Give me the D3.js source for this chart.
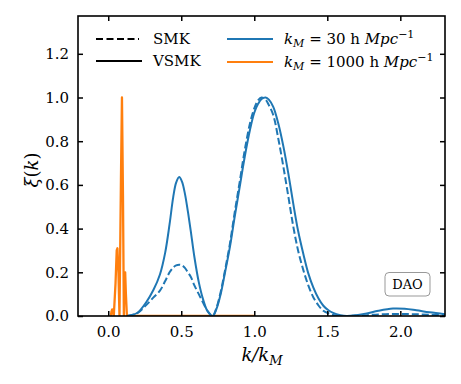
<!DOCTYPE html>
<html>
<head>
<meta charset="utf-8">
<script src="https://cdn.jsdelivr.net/npm/d3@7"></script>
<style>
  body { margin: 0; background: #fff; }
  text { font-family: "DejaVu Serif", serif; }
</style>
</head>
<body>
<svg id="chart" width="461" height="384"></svg>
<script>
// k/kM sample points (kM = 30 h/Mpc)
const kBlue = [0.13, 0.2, 0.26, 0.31, 0.354, 0.39, 0.42, 0.445, 0.465, 0.486, 0.505, 0.525, 0.545, 0.565, 0.59, 0.62, 0.65, 0.68, 0.715,
  0.74, 0.77, 0.80, 0.833, 0.865, 0.90, 0.935, 0.97, 1.0, 1.027, 1.05, 1.078, 1.10, 1.13, 1.165, 1.2, 1.235, 1.267, 1.30, 1.336,
  1.37, 1.404, 1.44, 1.473, 1.51, 1.54, 1.59, 1.632, 1.70, 1.77, 1.85, 1.95, 2.03, 2.11, 2.2, 2.31];
const vsmkBlue = [0, 0.015, 0.063, 0.12, 0.19, 0.29, 0.42, 0.544, 0.61, 0.636, 0.615, 0.56, 0.48, 0.39, 0.27, 0.155, 0.075, 0.022, 0,
  0.03, 0.1, 0.2, 0.315, 0.45, 0.59, 0.73, 0.85, 0.93, 0.972, 0.993, 1.0, 0.99, 0.957, 0.88, 0.774, 0.645, 0.514, 0.39, 0.284,
  0.195, 0.131, 0.08, 0.047, 0.025, 0.014, 0.004, 0, 0.004, 0.012, 0.024, 0.034, 0.033, 0.026, 0.017, 0.008];
const smkBlue = [0, 0.013, 0.05, 0.085, 0.116, 0.16, 0.2, 0.222, 0.232, 0.235, 0.232, 0.22, 0.2, 0.18, 0.14, 0.1, 0.06, 0.024, 0,
  0.035, 0.11, 0.21, 0.33, 0.47, 0.613, 0.76, 0.88, 0.95, 0.988, 1.0, 0.99, 0.965, 0.92, 0.81, 0.68, 0.54, 0.41, 0.3, 0.21,
  0.14, 0.086, 0.048, 0.024, 0.012, 0.005, 0, 0, 0.002, 0.004, 0.007, 0.009, 0.009, 0.008, 0.006, 0.003];

// kM = 1000 h/Mpc
const kOrange = [0.018, 0.022, 0.027, 0.032, 0.038, 0.05, 0.058, 0.063, 0.07, 0.077, 0.087, 0.094, 0.101, 0.107, 0.111, 0.116, 0.121, 0.128, 0.2, 0.5, 1.0];
const vsmkOrange = [0, 0.02, 0.03, 0.025, 0, 0.15, 0.3, 0.31, 0.2, 0, 0.62, 1.0, 0.55, 0, 0.18, 0.2, 0.1, 0, 0, 0, 0];

const xTicks = [0.0, 0.5, 1.0, 1.5, 2.0];
const yTicks = [0.0, 0.2, 0.4, 0.6, 0.8, 1.0, 1.2];

const svg = d3.select("#chart");
const margin = { top: 16, right: 16, bottom: 68, left: 78 };
const width = +svg.attr("width") - margin.left - margin.right;
const height = +svg.attr("height") - margin.top - margin.bottom;
const g = svg.append("g").attr("transform", `translate(${margin.left},${margin.top})`);

const x = d3.scaleLinear().domain([-0.207, 2.306]).range([0, width]);
const y = d3.scaleLinear().domain([0, 1.373]).range([height, 0]);

const blue = "#1f77b4", orange = "#ff7f0e";

svg.append("defs").append("clipPath").attr("id", "clip")
  .append("rect").attr("width", width).attr("height", height);

const plot = g.append("g").attr("clip-path", "url(#clip)");

const smooth = d3.line().x(d => x(d[0])).y(d => y(d[1])).curve(d3.curveCatmullRom.alpha(0.5));
const straight = d3.line().x(d => x(d[0])).y(d => y(d[1]));

plot.append("path")
  .datum(d3.zip(kOrange, vsmkOrange))
  .attr("d", straight)
  .attr("fill", "none").attr("stroke", orange).attr("stroke-width", 2.3).attr("stroke-linejoin", "round");

plot.append("path")
  .datum(d3.zip(kBlue, smkBlue))
  .attr("d", smooth)
  .attr("fill", "none").attr("stroke", blue).attr("stroke-width", 2).attr("stroke-dasharray", "7,3");

plot.append("path")
  .datum(d3.zip(kBlue, vsmkBlue))
  .attr("d", smooth)
  .attr("fill", "none").attr("stroke", blue).attr("stroke-width", 2);

// axes with inward ticks on all four sides
const fmt = d3.format(".1f");
const styleAxis = sel => {
  sel.select(".domain").remove();
  sel.selectAll(".tick line").attr("stroke", "#000").attr("stroke-width", 1.5);
  sel.selectAll(".tick text").attr("font-family", "DejaVu Serif").attr("font-size", 15).attr("fill", "#000");
};

g.append("g").attr("transform", `translate(0,${height})`)
  .call(d3.axisBottom(x).tickValues(xTicks).tickFormat(fmt).tickSizeInner(-5).tickPadding(10))
  .call(styleAxis);
g.append("g")
  .call(d3.axisTop(x).tickValues(xTicks).tickSizeInner(-5).tickFormat(""))
  .call(styleAxis);
g.append("g")
  .call(d3.axisLeft(y).tickValues(yTicks).tickFormat(fmt).tickSizeInner(-5).tickPadding(9))
  .call(styleAxis);
g.append("g").attr("transform", `translate(${width},0)`)
  .call(d3.axisRight(y).tickValues(yTicks).tickSizeInner(-5).tickFormat(""))
  .call(styleAxis);

g.append("rect").attr("width", width).attr("height", height)
  .attr("fill", "none").attr("stroke", "#000").attr("stroke-width", 1.6);

// axis labels
const xl = svg.append("text").attr("x", 262).attr("y", 361).attr("text-anchor", "middle")
  .attr("font-size", 18).attr("font-style", "italic");
xl.append("tspan").text("k/k");
xl.append("tspan").attr("font-size", 13).attr("dy", 4).text("M");

svg.append("text")
  .attr("transform", "translate(38,170) rotate(-90)")
  .attr("text-anchor", "middle").attr("font-size", 18)
  .html('<tspan font-style="italic">ξ</tspan>(<tspan font-style="italic">k</tspan>)');

// legend
const legend = svg.append("g");
const legRows = [
  { x1: 96, x2: 139, y: 39, stroke: "#000", dash: "7,3.5", label: "SMK", tx: 153 },
  { x1: 96, x2: 142, y: 61, stroke: "#000", dash: null, label: "VSMK", tx: 153 }
];
legRows.forEach(r => {
  legend.append("line").attr("x1", r.x1).attr("x2", r.x2).attr("y1", r.y).attr("y2", r.y)
    .attr("stroke", r.stroke).attr("stroke-width", 2).attr("stroke-dasharray", r.dash);
  legend.append("text").attr("x", r.tx).attr("y", r.y + 5).attr("font-size", 15).text(r.label);
});
const kmRows = [
  { y: 39, color: blue, value: "30" },
  { y: 62, color: orange, value: "1000" }
];
kmRows.forEach(r => {
  legend.append("line").attr("x1", 227).attr("x2", 273).attr("y1", r.y).attr("y2", r.y)
    .attr("stroke", r.color).attr("stroke-width", 2);
  const t = legend.append("text").attr("x", 284).attr("y", r.y + 5).attr("font-size", 15);
  t.append("tspan").attr("font-style", "italic").text("k");
  t.append("tspan").attr("font-style", "italic").attr("font-size", 11).attr("dy", 3).text("M");
  t.append("tspan").attr("dy", -3).text(` = ${r.value} h `);
  t.append("tspan").attr("font-style", "italic").text("Mpc");
  t.append("tspan").attr("font-size", 11).attr("dy", -6).text("−1");
});

// DAO annotation box
const box = svg.append("g");
box.append("rect").attr("x", 385).attr("y", 272.5).attr("width", 45).attr("height", 23.5).attr("rx", 4)
  .attr("fill", "#fff").attr("stroke", "#999").attr("stroke-width", 1);
box.append("text").attr("x", 407.5).attr("y", 289).attr("text-anchor", "middle").attr("font-size", 13).text("DAO");
</script>
</body>
</html>
